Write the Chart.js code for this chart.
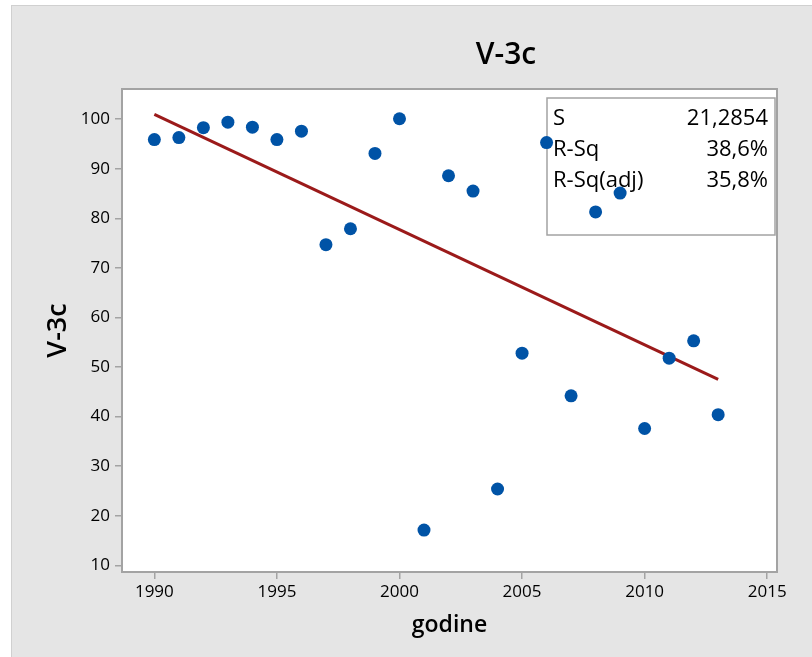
<!DOCTYPE html>
<html>
<head>
<meta charset="utf-8">
<script src="https://cdn.jsdelivr.net/npm/chart.js@4.4.1/dist/chart.umd.min.js"></script>
<style>
  html, body { margin: 0; padding: 0; background: #fff; }
  #wrap { width: 812px; height: 657px; }
</style>
</head>
<body>
<div id="wrap"><canvas id="myChart" width="812" height="657"></canvas></div>
<script>
// data
const years = [1990, 1991, 1992, 1993, 1994, 1995, 1996, 1997, 1998, 1999, 2000, 2001,
               2002, 2003, 2004, 2005, 2006, 2007, 2008, 2009, 2010, 2011, 2012, 2013];
const values = [95.9, 96.3, 98.3, 99.4, 98.4, 95.9, 97.6, 74.7, 77.9, 93.1, 100.1, 17.1,
                88.6, 85.5, 25.4, 52.8, 95.3, 44.2, 81.3, 85.1, 37.6, 51.8, 55.3, 40.4];
const fitYears = [1990, 2013];
const fitValues = [101.0, 47.5];
const xTicks = [1990, 1995, 2000, 2005, 2010, 2015];
const yTicks = [10, 20, 30, 40, 50, 60, 70, 80, 90, 100];
const statLabels = ['S', 'R-Sq', 'R-Sq(adj)'];
const statValues = ['21,2854', '38,6%', '35,8%'];
const chartTitle = 'V-3c';
const xTitle = 'godine';
const yTitle = 'V-3c';

const FONT = '"Open Sans", "Noto Sans", sans-serif';

const frame = {
  id: 'frame',
  beforeDraw(chart) {
    const c = chart.ctx;
    const a = chart.chartArea;
    c.save();
    c.fillStyle = '#fff';
    c.fillRect(0, 0, chart.width, chart.height);
    c.fillStyle = '#e5e5e5';
    c.fillRect(11, 5, chart.width - 11, chart.height - 5);
    c.strokeStyle = '#d0d0d0';
    c.lineWidth = 1;
    c.strokeRect(11.5, 5.5, chart.width, chart.height);
    c.fillStyle = '#fff';
    c.fillRect(a.left, a.top, a.right - a.left, a.bottom - a.top);

    c.fillStyle = '#000';
    c.font = '600 30px ' + FONT;
    c.textAlign = 'center';
    c.textBaseline = 'alphabetic';
    c.fillText(chartTitle, 506, 64);
    c.restore();
  },
  beforeDatasetsDraw(chart) {
    const c = chart.ctx;
    const a = chart.chartArea;
    c.save();
    c.strokeStyle = '#a3a3a3';
    c.lineWidth = 2;
    c.strokeRect(a.left, a.top, a.right - a.left, a.bottom - a.top);

    // stats box
    const bx = 547, by = 98, bw = a.right - 2 - bx, bh = 137;
    c.fillStyle = '#fff';
    c.fillRect(bx, by, bw, bh);
    c.lineWidth = 1.5;
    c.strokeRect(bx, by, bw, bh);
    c.fillStyle = '#000';
    c.font = '22px ' + FONT;
    c.textBaseline = 'alphabetic';
    const base = [124.5, 155.5, 186.5];
    statLabels.forEach((t, i) => {
      c.textAlign = 'left';
      c.fillText(t, 553, base[i]);
      c.textAlign = 'right';
      c.fillText(statValues[i], 768, base[i]);
    });
    c.restore();
  }
};

const ctx = document.getElementById('myChart');

new Chart(ctx, {
  type: 'scatter',
  data: {
    datasets: [{
      data: years.map((y, i) => ({ x: y, y: values[i] })),
      backgroundColor: '#0053a6',
      borderColor: '#0053a6',
      pointRadius: 6.5,
      pointBorderWidth: 0,
    }, {
      type: 'line',
      data: fitYears.map((y, i) => ({ x: y, y: fitValues[i] })),
      borderColor: '#9b1a1a',
      borderWidth: 3,
      pointRadius: 0,
      fill: false,
    }]
  },
  options: {
    responsive: false,
    animation: false,
    devicePixelRatio: 1,
    layout: { padding: { left: 0, right: 35, top: 89, bottom: 0 } },
    plugins: {
      legend: { display: false },
      tooltip: { enabled: false },
    },
    scales: {
      x: {
        type: 'linear',
        position: 'bottom',
        min: 1988.68,
        max: 2015.4,
        afterBuildTicks: (s) => { s.ticks = xTicks.map(v => ({ value: v })); },
        afterFit: (s) => { s.height = 85; },
        grid: { drawOnChartArea: false, drawTicks: true, tickLength: 7, color: '#a3a3a3', lineWidth: 1.5 },
        border: { display: false },
        ticks: {
          color: '#000',
          font: { family: FONT, size: 17 },
          padding: 3,
          maxRotation: 0,
          autoSkip: false,
          callback: (v) => String(v),
        },
        title: {
          display: true,
          text: xTitle,
          color: '#000',
          font: { family: FONT, size: 23, weight: '600' },
          padding: { top: 0, bottom: 18 },
        }
      },
      y: {
        min: 8.65,
        max: 106.1,
        afterBuildTicks: (s) => { s.ticks = yTicks.map(v => ({ value: v })); },
        afterFit: (s) => { s.width = 122; },
        grid: { drawOnChartArea: false, drawTicks: true, tickLength: 7, color: '#a3a3a3', lineWidth: 1.5 },
        border: { display: false },
        ticks: {
          color: '#000',
          font: { family: FONT, size: 17 },
          padding: 5,
          autoSkip: false,
          callback: (v) => String(v),
        },
        title: {
          display: true,
          text: yTitle,
          color: '#000',
          font: { family: FONT, size: 27, weight: '600' },
          padding: { top: 42, bottom: 0 },
        }
      }
    }
  },
  plugins: [frame]
});
</script>
</body>
</html>
